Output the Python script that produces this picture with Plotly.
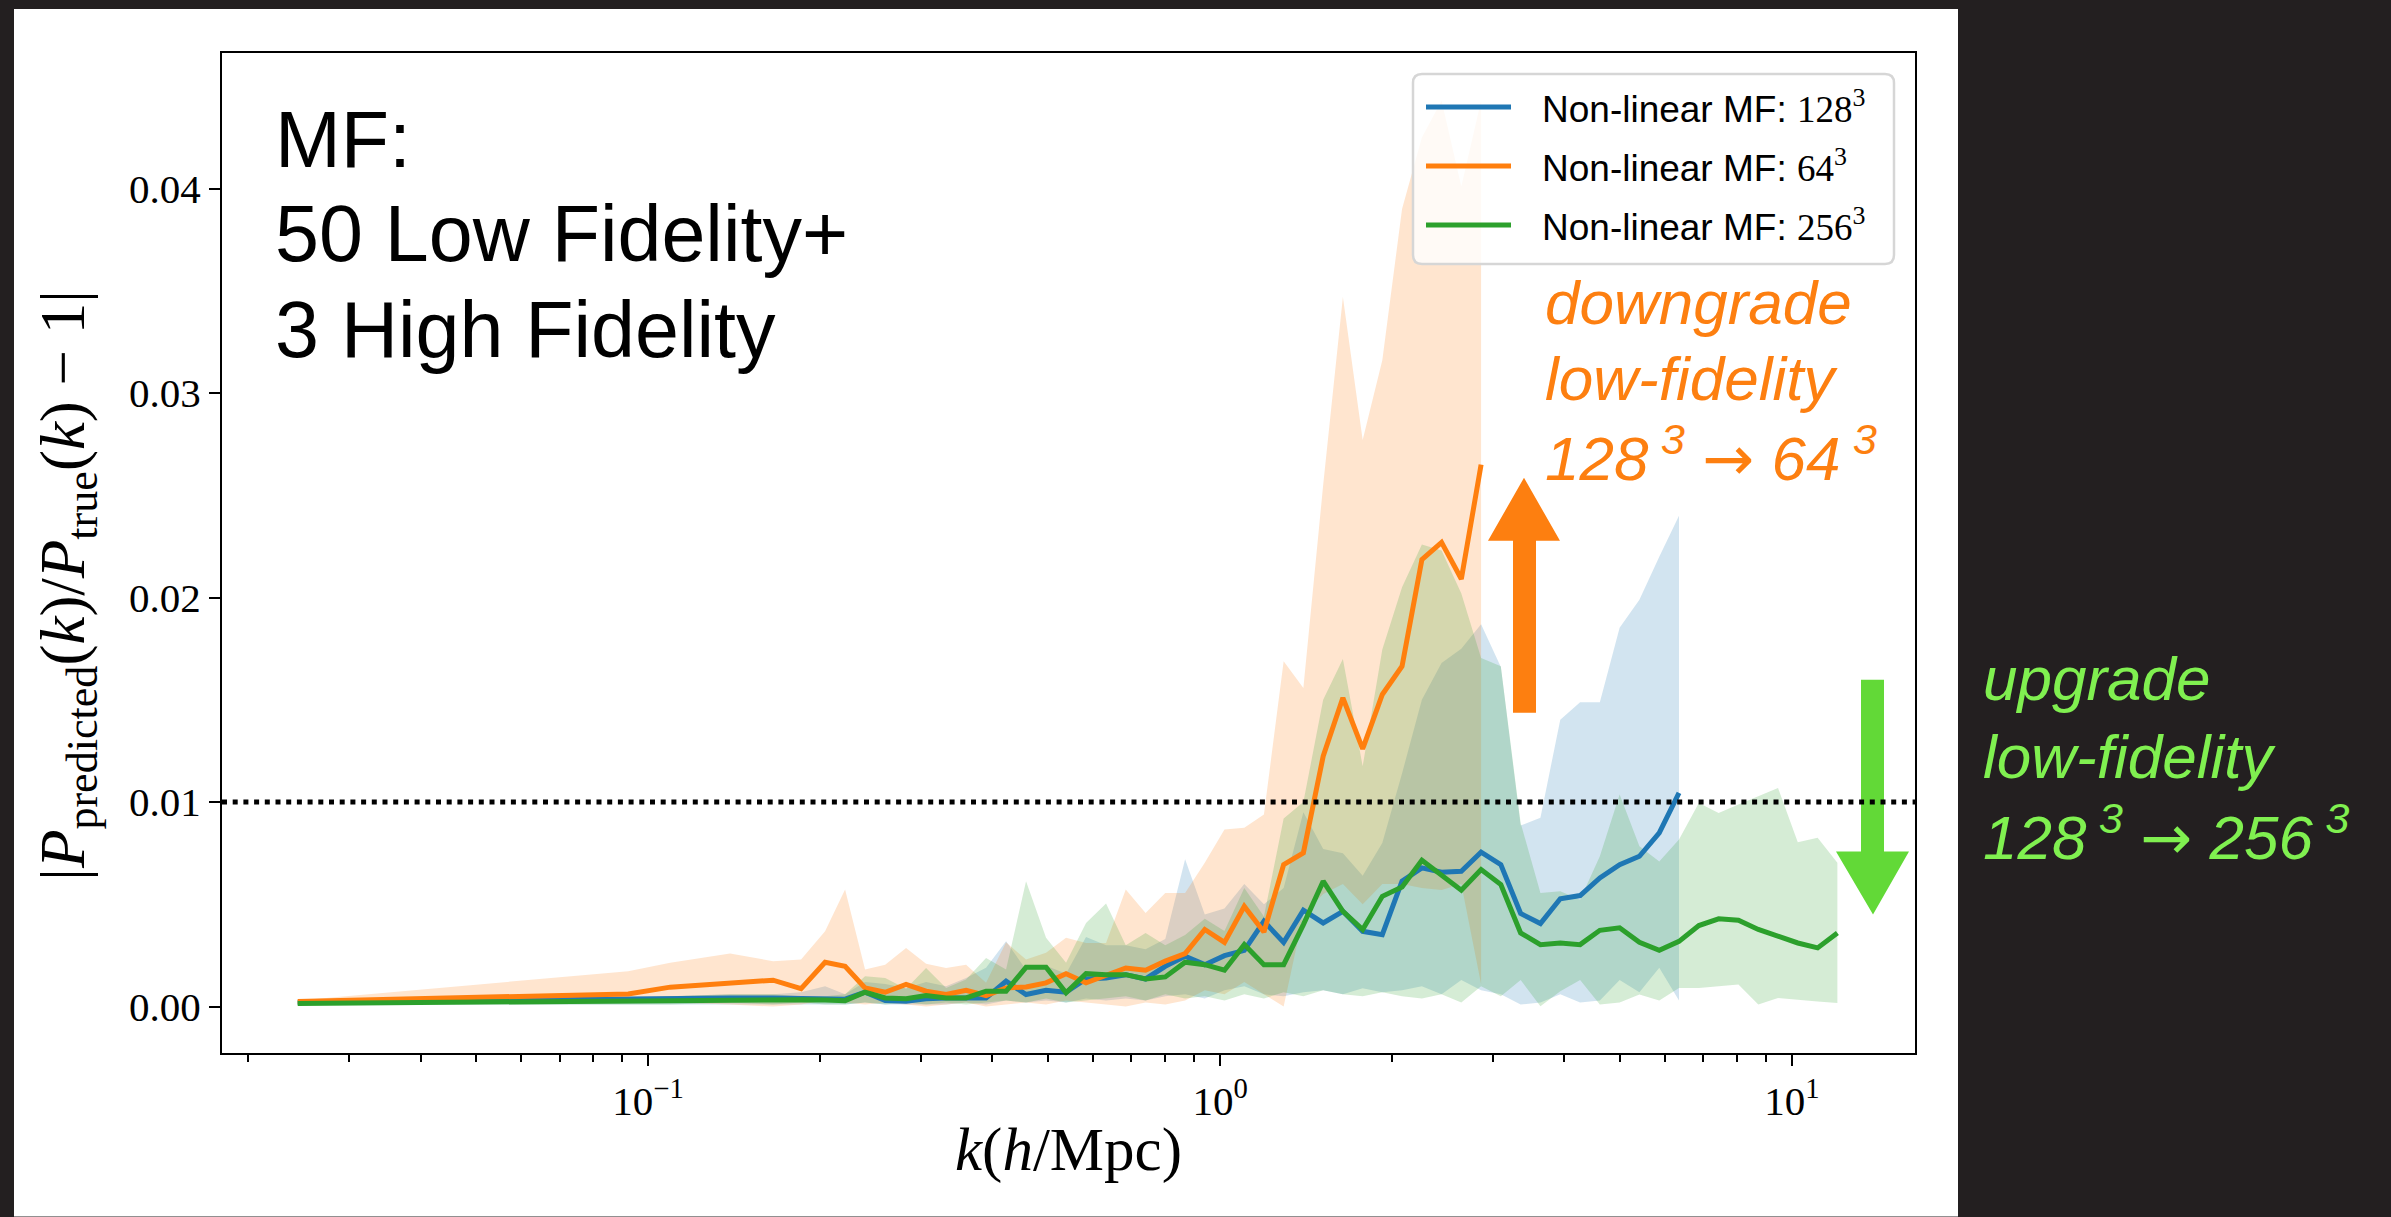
import plotly.graph_objects as go

# ---------------------------------------------------------------- data
# wavenumber bins k [h/Mpc]
k = [0.0244, 0.0923, 0.1093, 0.1391, 0.1654, 0.1851, 0.2039, 0.2210, 0.2395, 0.2597,
     0.2825, 0.3062, 0.3319, 0.3597, 0.3898, 0.4225, 0.4579, 0.4963, 0.5379, 0.5830,
     0.6319, 0.6841, 0.7409, 0.8021, 0.8687, 0.9403, 1.0179, 1.1024, 1.1931, 1.2917,
     1.3985, 1.5145, 1.6396, 1.7755, 1.9216, 2.0805, 2.2535, 2.4393, 2.6412, 2.8600,
     3.0967, 3.3536, 3.6317, 3.9336, 4.2607, 4.6132, 4.9955, 5.4099, 5.8598, 6.3446,
     6.8723, 7.4421, 8.0594, 8.7297, 9.4515, 10.235, 11.086, 12.003]

# Non-linear MF, 128^3 low-fidelity
err_128_mean = [0.0002, 0.0004, 0.0004, 0.00042, 0.00042, 0.0004, 0.00038, 0.00036, 0.0007, 0.0003,
                0.00026, 0.00038, 0.00042, 0.00042, 0.00042, 0.00124, 0.00059, 0.0008, 0.0007, 0.00135,
                0.0014, 0.00156, 0.00135, 0.00197, 0.00246, 0.00205, 0.00249, 0.00275, 0.00417, 0.00314,
                0.00471, 0.00409, 0.00466, 0.00368, 0.00352, 0.00613, 0.00678, 0.00657, 0.00662, 0.00755,
                0.00694, 0.00455, 0.00406, 0.00527, 0.00543, 0.00629, 0.00694, 0.00735, 0.00849, 0.01045]
err_128_hi = [0.0003, 0.0005, 0.0005, 0.0006, 0.0006, 0.0007, 0.0010, 0.0006, 0.0012, 0.0011,
              0.0009, 0.0012, 0.0010, 0.0014, 0.0019, 0.0032, 0.0018, 0.0020, 0.0016, 0.0034,
              0.0030, 0.0030, 0.0028, 0.0033, 0.0072, 0.0045, 0.0048, 0.0060, 0.0050, 0.0058,
              0.0095, 0.0077, 0.0075, 0.0064, 0.0080, 0.0114, 0.0150, 0.0168, 0.0175, 0.0187,
              0.0166, 0.00885, 0.00923, 0.01403, 0.01488, 0.01488, 0.01852, 0.0199, 0.0220, 0.0240]
err_128_lo = [0.0001, 0.0001, 0.0001, 0.0001, 0.0001, 0.0001, 0.0001, 0.0001, 0.0002, 0.0001,
              0.0001, 0.0001, 0.0001, 0.0002, 0.0001, 0.0003, 0.0002, 0.0003, 0.0002, 0.0004,
              0.0003, 0.0004, 0.0003, 0.0005, 0.0006, 0.0004, 0.0008, 0.0010, 0.0006, 0.0005,
              0.0007, 0.0008, 0.0006, 0.0009, 0.0007, 0.0008, 0.0010, 0.0006, 0.0013, 0.0008,
              0.0006, 0.0001, 0.0002, 0.0006, 0.0002, 0.0003, 0.0013, 0.0007, 0.0019, 0.0003]

# Non-linear MF, 64^3 low-fidelity
err_64_mean = [0.00025, 0.00062, 0.00095, 0.00116, 0.00129, 0.00088, 0.00217, 0.00197, 0.00091, 0.0007,
               0.00108, 0.00075, 0.00059, 0.0008, 0.00054, 0.00091, 0.00096, 0.00116, 0.00161, 0.00116,
               0.0015, 0.00189, 0.00178, 0.00222, 0.00259, 0.00377, 0.00314, 0.0049, 0.00365, 0.00694,
               0.00752, 0.01224, 0.0151, 0.0126, 0.01526, 0.01664, 0.02186, 0.0227, 0.02091, 0.0265]
err_64_hi = [0.0003, 0.00173, 0.00214, 0.00259, 0.00222, 0.0023, 0.00368, 0.00572, 0.00181, 0.00205,
             0.00287, 0.0021, 0.00189, 0.00205, 0.00116, 0.00314, 0.0023, 0.00263, 0.00336, 0.00311,
             0.00311, 0.00572, 0.00458, 0.00556, 0.00556, 0.00703, 0.00866, 0.00874, 0.00939, 0.01689,
             0.01558, 0.0255, 0.0347, 0.0277, 0.0316, 0.0390, 0.0425, 0.0443, 0.0401, 0.0443]
err_64_lo = [0.0001, 0.0002, 0.0002, 0.0001, 0.0, 0.0001, 0.0003, 0.0002, 0.0001, 0.0002,
             0.0001, 0.0, 0.0001, 0.0002, 0.0, 0.0001, 0.0002, 0.0001, 0.0003, 0.0002,
             0.0001, 0.0, 0.0002, 0.0001, 0.0003, 0.0008, 0.0006, 0.0012, 0.0006, 0.0,
             0.0045, 0.0055, 0.0060, 0.0050, 0.0060, 0.0060, 0.0058, 0.0057, 0.0060, 0.0011]

# Non-linear MF, 256^3 low-fidelity
err_256_mean = [0.00015, 0.0003, 0.00032, 0.00036, 0.00038, 0.00034, 0.00032, 0.00029, 0.0007, 0.00042,
                0.00038, 0.00054, 0.00042, 0.00042, 0.00075, 0.00075, 0.00192, 0.00192, 0.00067, 0.00161,
                0.00156, 0.00156, 0.00135, 0.00145, 0.00217, 0.00205, 0.00178, 0.00303, 0.00205, 0.00205,
                0.00401, 0.00613, 0.00466, 0.00377, 0.00539, 0.00585, 0.00715, 0.00645, 0.00569, 0.0067,
                0.00597, 0.0036, 0.00303, 0.00311, 0.00303, 0.00373, 0.00385, 0.00314, 0.00275, 0.00319,
                0.00396, 0.00429, 0.00422, 0.00377, 0.00344, 0.00311, 0.00287, 0.0036]
err_256_hi = [0.0003, 0.0004, 0.0005, 0.0006, 0.0006, 0.0005, 0.0005, 0.0006, 0.00148, 0.0014,
              0.00087, 0.00189, 0.00091, 0.00132, 0.00238, 0.00181, 0.00613, 0.00336, 0.00214, 0.00409,
              0.00504, 0.0030, 0.0036, 0.0030, 0.0035, 0.0043, 0.0037, 0.0058, 0.0044, 0.0092,
              0.0100, 0.0150, 0.0170, 0.01175, 0.01746, 0.0205, 0.0226, 0.0223, 0.0202, 0.01705,
              0.01664, 0.00898, 0.00556, 0.00564, 0.00523, 0.00735, 0.01037, 0.00784, 0.0071, 0.00817,
              0.00996, 0.00947, 0.00988, 0.01028, 0.01069, 0.00803, 0.00825, 0.00703]
err_256_lo = [0.0001, 0.0001, 0.0001, 0.0002, 0.0001, 0.0002, 0.0001, 0.0001, 0.0002, 0.0001,
              0.0002, 0.0001, 0.0002, 0.0001, 0.0002, 0.0003, 0.0002, 0.0004, 0.0002, 0.0003,
              0.0004, 0.0005, 0.0003, 0.0006, 0.0004, 0.0005, 0.0003, 0.0006, 0.0004, 0.0007,
              0.0005, 0.0008, 0.0006, 0.0005, 0.0007, 0.0005, 0.0004, 0.0006, 0.0002, 0.0010,
              0.0005, 0.0013, 0.00002, 0.00075, 0.0013, 0.0001, 0.0002, 0.00059, 0.0003, 0.00091,
              0.00091, 0.0010, 0.00108, 0.0001, 0.00042, 0.00034, 0.00025, 0.00018]

series = [
    ("Non-linear MF: ", "128", err_128_mean, err_128_hi, err_128_lo, (31, 119, 180)),
    ("Non-linear MF: ", "64", err_64_mean, err_64_hi, err_64_lo, (255, 127, 14)),
    ("Non-linear MF: ", "256", err_256_mean, err_256_hi, err_256_lo, (44, 160, 44)),
]

threshold = 0.01

# ---------------------------------------------------------------- geometry
W, H = 2391, 1217
PL, PR, PT, PB = 222, 1915, 53, 1053.5      # plot-area edges in page pixels


def px(x):
    return (x - PL) / (PR - PL)


def py(y):
    return (PB - y) / (PB - PT)


SERIF = "Liberation Serif"
SANS = "Liberation Sans"
ARROW = '<span style="font-family:DejaVu Sans">→</span>'
THIN = "\u2009"

fig = go.Figure()

# shaded spread of each model
for name, res, mean, hi, lo, (r, g, b) in series:
    kk = k[:len(mean)]
    fig.add_trace(go.Scatter(
        x=kk + kk[::-1], y=hi + lo[::-1], fill="toself",
        fillcolor=f"rgba({r},{g},{b},0.2)", line=dict(width=0),
        mode="lines", hoverinfo="skip", showlegend=False))

# mean relative error curves
for name, res, mean, hi, lo, (r, g, b) in series:
    kk = k[:len(mean)]
    fig.add_trace(go.Scatter(
        x=kk, y=mean, mode="lines", line=dict(color=f"rgb({r},{g},{b})", width=5),
        name=f"{name}{res}^3", showlegend=False))

shapes = []
annotations = []

# white card behind the axes
shapes.append(dict(type="rect", xref="paper", yref="paper", layer="below",
                   x0=px(14), x1=px(1958), y0=py(1217), y1=py(9),
                   fillcolor="white", line=dict(width=0)))


def block_arrow(x_shaft0, x_shaft1, y_tail, y_base, x_head0, x_head1, x_tip, y_tip, color):
    path = (f"M{px(x_shaft0)},{py(y_tail)} L{px(x_shaft0)},{py(y_base)} "
            f"L{px(x_head0)},{py(y_base)} L{px(x_tip)},{py(y_tip)} "
            f"L{px(x_head1)},{py(y_base)} L{px(x_shaft1)},{py(y_base)} "
            f"L{px(x_shaft1)},{py(y_tail)} Z")
    return dict(type="path", xref="paper", yref="paper", path=path,
                fillcolor=color, line=dict(width=0), layer="above")


# up arrow (coarser low-fidelity run) and down arrow (finer low-fidelity run)
shapes.append(block_arrow(1513, 1536, 713, 541, 1488, 1560, 1524, 478, "#FD7F10"))
shapes.append(block_arrow(1861, 1884, 680, 852, 1836, 1909, 1873, 915, "#62D937"))

# 1% accuracy line
shapes.append(dict(type="line", xref="paper", yref="y", x0=0, x1=1,
                   y0=threshold, y1=threshold, layer="above",
                   line=dict(color="black", width=5, dash="5px,5.7px")))

# legend box
lx0, lx1, ly0, ly1, rad = 1413, 1894, 74, 264, 9
rx = rad / (PR - PL)
ry = rad / (PB - PT)
X0, X1, Y0, Y1 = px(lx0), px(lx1), py(ly1), py(ly0)
legend_path = (f"M{X0 + rx},{Y1} L{X1 - rx},{Y1} Q{X1},{Y1} {X1},{Y1 - ry} "
               f"L{X1},{Y0 + ry} Q{X1},{Y0} {X1 - rx},{Y0} L{X0 + rx},{Y0} "
               f"Q{X0},{Y0} {X0},{Y0 + ry} L{X0},{Y1 - ry} Q{X0},{Y1} {X0 + rx},{Y1} Z")
shapes.append(dict(type="path", xref="paper", yref="paper", path=legend_path,
                   fillcolor="rgba(255,255,255,0.8)", line=dict(color="#d6d6d6", width=2.5),
                   layer="above"))

for i, (name, res, mean, hi, lo, (r, g, b)) in enumerate(series):
    yc = 107 + 59 * i
    shapes.append(dict(type="line", xref="paper", yref="paper", layer="above",
                       x0=px(1426), x1=px(1511), y0=py(yc), y1=py(yc),
                       line=dict(color=f"rgb({r},{g},{b})", width=5)))
    annotations.append(dict(
        xref="paper", yref="paper", x=px(1541), y=py(yc), xanchor="left", yanchor="middle",
        showarrow=False, borderpad=0,
        text=f'{name}<span style="font-family:{SERIF}">{res}<sup>3</sup></span>',
        font=dict(family=SANS, size=37, color="black")))

# title block
for txt, base in [("MF:", 167), ("50 Low Fidelity+", 261), ("3 High Fidelity", 357)]:
    annotations.append(dict(xref="paper", yref="paper", x=px(274), y=py(base - 0.35 * 79),
                            xanchor="left", yanchor="middle", showarrow=False, borderpad=0,
                            text=txt, font=dict(family=SANS, size=79, color="black")))

# downgrade note
for txt, base in [("<i>downgrade</i>", 324), ("<i>low-fidelity</i>", 400),
                  (f"<i>128{THIN}<sup>3</sup> {ARROW} 64{THIN}<sup>3</sup></i>", 477)]:
    annotations.append(dict(xref="paper", yref="paper", x=px(1544), y=py(base - 0.35 * 62),
                            xanchor="left", yanchor="middle", showarrow=False, borderpad=0,
                            text=txt, font=dict(family=SANS, size=62, color="#FD7F10")))

# upgrade note
for txt, base in [("<i>upgrade</i>", 701), ("<i>low-fidelity</i>", 779),
                  (f"<i>128{THIN}<sup>3</sup> {ARROW} 256{THIN}<sup>3</sup></i>", 856)]:
    annotations.append(dict(xref="paper", yref="paper", x=px(1982), y=py(base - 0.35 * 62),
                            xanchor="left", yanchor="middle", showarrow=False, borderpad=0,
                            text=txt, font=dict(family=SANS, size=62, color="#80F050")))

# axis titles
annotations.append(dict(xref="paper", yref="paper", x=0.5, y=py(1151), xanchor="center",
                        yanchor="middle", showarrow=False,
                        text="<i>k</i>(<i>h</i>/Mpc)",
                        font=dict(family=SERIF, size=61, color="black")))
annotations.append(dict(xref="paper", yref="paper", x=px(68), y=py(586), xanchor="center",
                        yanchor="middle", showarrow=False, textangle=-90,
                        text="|<i>P</i><sub>predicted</sub>(<i>k</i>)/<i>P</i><sub>true</sub>(<i>k</i>) − 1|",
                        font=dict(family=SERIF, size=63, color="black")))

minor_k = [m * 10.0 ** e for e in (-2, -1, 0, 1) for m in range(2, 10)]

fig.update_layout(
    width=W, height=H,
    margin=dict(l=PL, r=W - PR, t=PT, b=H - PB, pad=0, autoexpand=False),
    paper_bgcolor="#231f20", plot_bgcolor="rgba(0,0,0,0)",
    showlegend=False, shapes=shapes, annotations=annotations,
    xaxis=dict(type="log", range=[-1.745, 1.215], showgrid=False, zeroline=False,
               showline=True, mirror=True, linecolor="black", linewidth=2,
               ticks="outside", ticklen=11, tickwidth=2, tickcolor="black",
               tickvals=[0.1, 1, 10],
               ticktext=["10<sup>−1</sup>", "10<sup>0</sup>", "10<sup>1</sup>"],
               tickfont=dict(family=SERIF, size=41, color="black"),
               minor=dict(tickmode="array", tickvals=minor_k, ticks="outside",
                          ticklen=7, tickwidth=1.5, tickcolor="black", showgrid=False)),
    yaxis=dict(range=[-0.00227, 0.04663], showgrid=False, zeroline=False,
               showline=True, mirror=True, linecolor="black", linewidth=2,
               ticks="outside", ticklen=11, tickwidth=2, tickcolor="black",
               tickvals=[0, 0.01, 0.02, 0.03, 0.04], tickformat=".2f",
               tickfont=dict(family=SERIF, size=41, color="black")),
)

fig.write_html("out.html")
